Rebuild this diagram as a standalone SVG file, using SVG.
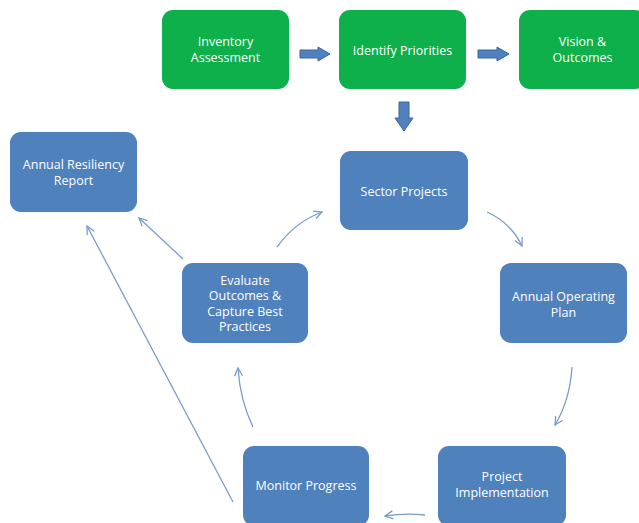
<svg xmlns="http://www.w3.org/2000/svg" width="639" height="523" viewBox="0 0 639 523">
<defs>
<style>
.g{fill:#0DB04B;}
.b{fill:#4F81BD;}
.t{fill:#fff;font-family:"Open Sans","Liberation Sans",sans-serif;font-size:12.5px;text-anchor:middle;dominant-baseline:central;}
.ba{fill:#4F81BD;stroke:#3A64A0;stroke-width:1;}
.c{fill:none;stroke:#7A9CCB;stroke-width:1.3;marker-end:url(#ah);}
</style>
<marker id="ah" markerUnits="userSpaceOnUse" markerWidth="12" markerHeight="12" refX="9" refY="5" orient="auto">
<path d="M1,1 L9,5 L1,9" fill="none" stroke="#7A9CCB" stroke-width="1.3"/>
</marker>
</defs>
<rect width="639" height="523" fill="#fff"/>
<g id="connectors">
<polygon class="ba" points="300,50 318,50 318,47 330,54 318,61 318,58 300,58"/>
<polygon class="ba" points="478,50 497,50 497,47 509,54 497,61 497,58 478,58"/>
<polygon class="ba" points="399,102 409,102 409,118 413,118 404,131 395,118 399,118"/>
<path class="c" d="M487,212 Q511,223 522,246"/>
<path class="c" d="M572,367 Q570,400 555,425"/>
<path class="c" d="M425,515 Q405,513 385,516"/>
<path class="c" d="M253,427 Q240,400 238,368"/>
<path class="c" d="M277,247 Q295,222 322,212"/>
<path class="c" d="M183,259 L139,218"/>
<path class="c" d="M233,502 L87,226"/>
</g>
<g id="inventory"><rect class="g" x="162" y="10" width="127" height="79" rx="11"/><text class="t" x="225.5" y="41.5">Inventory</text><text class="t" x="225.5" y="57.5">Assessment</text></g>
<g id="priorities"><rect class="g" x="339" y="10" width="127" height="79" rx="11"/><text class="t" x="402.5" y="50">Identify Priorities</text></g>
<g id="vision"><rect class="g" x="519" y="10" width="127" height="79" rx="11"/><text class="t" x="582.5" y="41.5">Vision &amp;</text><text class="t" x="582.5" y="57.5">Outcomes</text></g>
<g id="report"><rect class="b" x="10" y="132" width="127" height="80" rx="11"/><text class="t" x="73.5" y="164.5">Annual Resiliency</text><text class="t" x="73.5" y="180">Report</text></g>
<g id="sector"><rect class="b" x="340" y="151" width="128" height="79" rx="11"/><text class="t" x="404" y="191">Sector Projects</text></g>
<g id="aop"><rect class="b" x="500" y="263" width="127" height="80" rx="11"/><text class="t" x="563.5" y="296">Annual Operating</text><text class="t" x="563.5" y="312">Plan</text></g>
<g id="evaluate"><rect class="b" x="182" y="263" width="126" height="80" rx="11"/><text class="t" x="245" y="280">Evaluate</text><text class="t" x="245" y="295.5">Outcomes &amp;</text><text class="t" x="245" y="311">Capture Best</text><text class="t" x="245" y="326.5">Practices</text></g>
<g id="monitor"><rect class="b" x="243" y="446" width="126" height="80" rx="11"/><text class="t" x="306" y="485">Monitor Progress</text></g>
<g id="implementation"><rect class="b" x="438" y="446" width="128" height="80" rx="11"/><text class="t" x="502" y="476.5">Project</text><text class="t" x="502" y="492.5">Implementation</text></g>
</svg>
